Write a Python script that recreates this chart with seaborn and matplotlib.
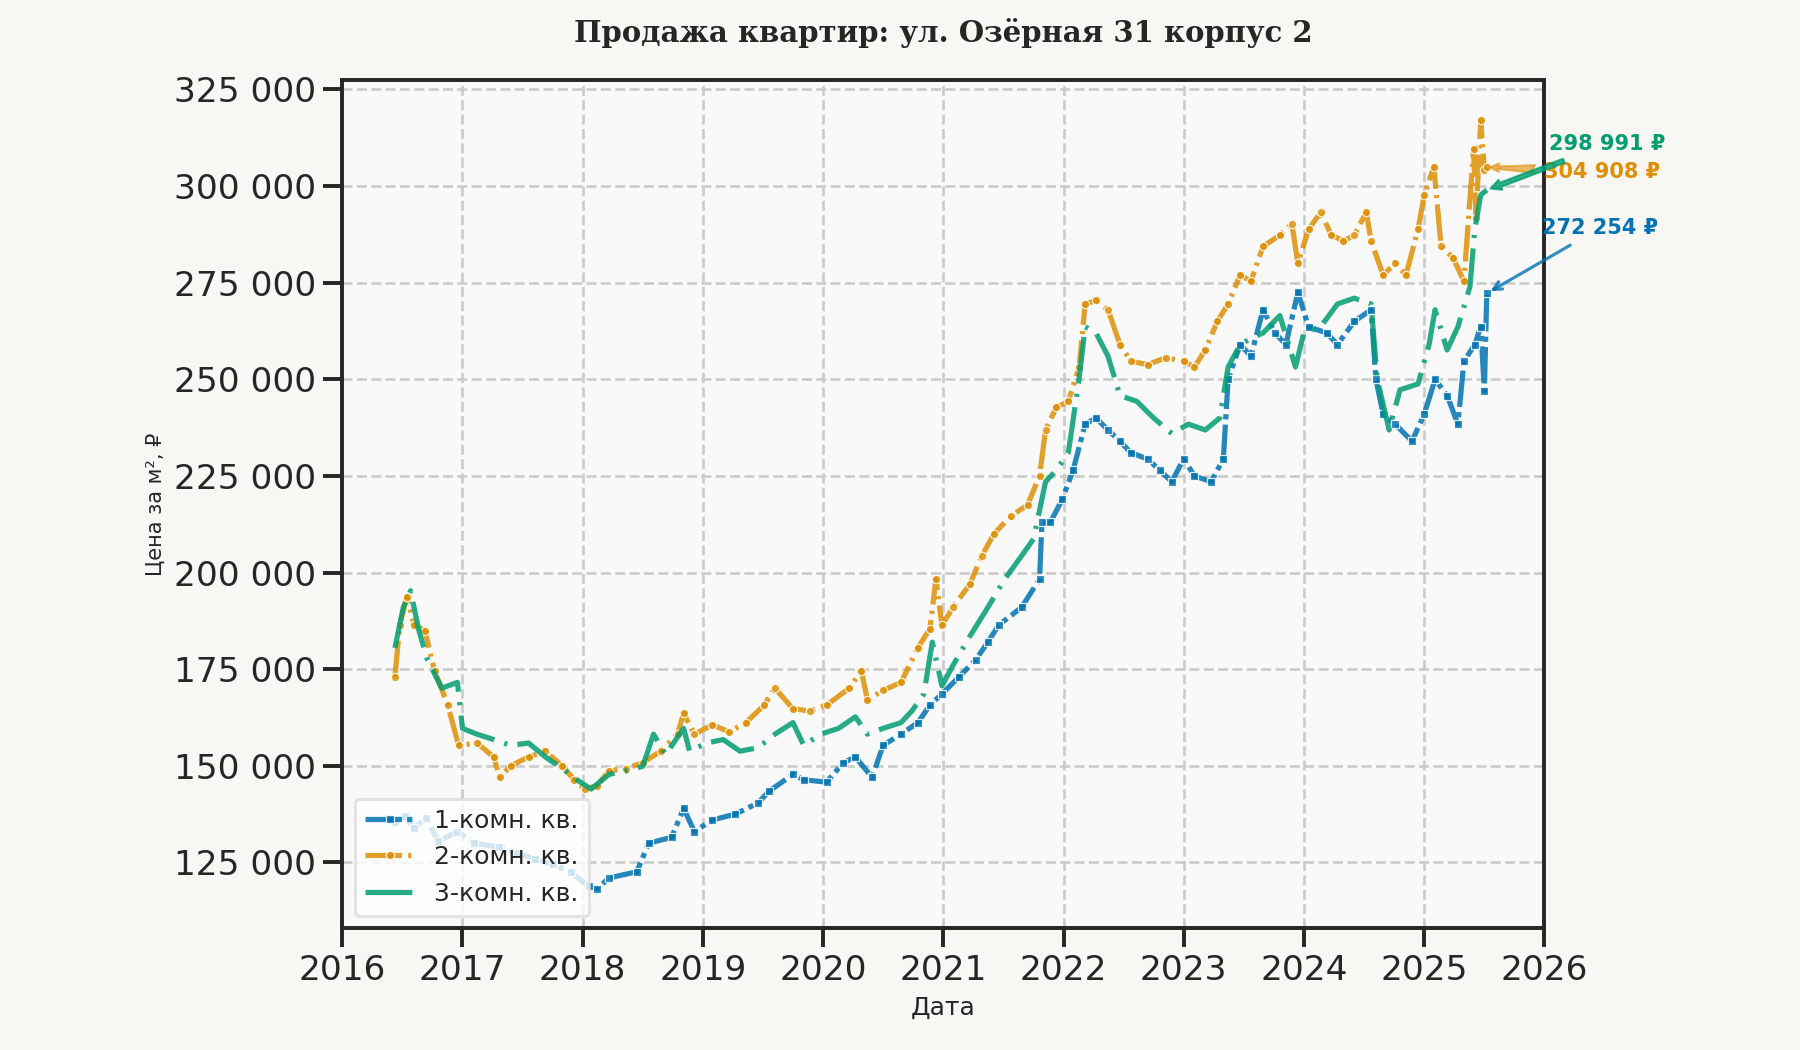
import pandas as pd
import matplotlib
matplotlib.use("Agg")
import matplotlib.pyplot as plt
import matplotlib.dates as mdates
from matplotlib.ticker import FuncFormatter
import seaborn as sns

TITLE = "Продажа квартир: ул. Озёрная 31 корпус 2"
LABELS = ["1-комн. кв.", "2-комн. кв.", "3-комн. кв."]

# годы (дробные) и цены за м2, тыс. руб.
t1 = [2016.44, 2016.52, 2016.6, 2016.7, 2016.8, 2016.96,
      2017.1, 2017.3, 2017.45, 2017.6, 2017.75, 2017.9,
      2018.05, 2018.12, 2018.22, 2018.45, 2018.55, 2018.74, 2018.84, 2018.93,
      2019.08, 2019.27, 2019.46, 2019.55, 2019.75, 2019.84,
      2020.03, 2020.17, 2020.27, 2020.41, 2020.5, 2020.65, 2020.79, 2020.89, 2020.99,
      2021.13, 2021.27, 2021.37, 2021.46, 2021.65, 2021.8, 2021.82, 2021.89, 2021.99,
      2022.08, 2022.18, 2022.27, 2022.37, 2022.47, 2022.56, 2022.7, 2022.8, 2022.9,
      2023.0, 2023.09, 2023.23, 2023.33, 2023.37, 2023.47, 2023.56, 2023.66, 2023.76, 2023.85, 2023.95,
      2024.04, 2024.19, 2024.28, 2024.42, 2024.56, 2024.6, 2024.66, 2024.76, 2024.9,
      2025.0, 2025.09, 2025.19, 2025.28, 2025.33, 2025.42, 2025.47, 2025.5, 2025.52]
v1 = [135.5, 137.0, 134.0, 136.5, 130.5, 133.0,
      130.0, 129.0, 127.5, 126.0, 124.5, 122.5,
      118.8, 118.2, 121.0, 122.6, 130.0, 131.5, 139.0, 133.0,
      136.0, 137.5, 140.4, 143.4, 147.8, 146.4,
      145.8, 150.8, 152.3, 147.0, 155.3, 158.2, 161.2, 165.7, 168.6,
      173.0, 177.5, 182.0, 186.4, 191.0, 198.3, 213.0, 213.0, 219.0,
      226.5, 238.4, 240.0, 236.9, 234.0, 231.0, 229.4, 226.5, 223.5,
      229.4, 225.0, 223.5, 229.4, 250.0, 259.0, 256.0, 268.0, 262.0, 259.0, 272.5,
      263.6, 262.0, 259.0, 265.0, 268.0, 250.0, 241.0, 238.4, 234.0,
      241.0, 250.0, 245.8, 238.4, 254.7, 259.0, 263.6, 247.0, 272.254]

t2 = [2016.44, 2016.48, 2016.54, 2016.6, 2016.69, 2016.77, 2016.88, 2016.97,
      2017.12, 2017.26, 2017.31, 2017.4, 2017.55, 2017.69, 2017.83, 2017.93,
      2018.02, 2018.12, 2018.22, 2018.36, 2018.5, 2018.65, 2018.79, 2018.84, 2018.93,
      2019.08, 2019.22, 2019.36, 2019.51, 2019.6, 2019.75, 2019.89,
      2020.03, 2020.22, 2020.32, 2020.37, 2020.5, 2020.65, 2020.79, 2020.89, 2020.94, 2020.99,
      2021.08, 2021.22, 2021.32, 2021.42, 2021.56, 2021.7, 2021.8, 2021.85, 2021.94,
      2022.04, 2022.13, 2022.18, 2022.27, 2022.37, 2022.47, 2022.56, 2022.7, 2022.85,
      2023.0, 2023.09, 2023.18, 2023.28, 2023.37, 2023.47, 2023.56, 2023.66, 2023.8, 2023.9, 2023.95,
      2024.04, 2024.14, 2024.23, 2024.33, 2024.42, 2024.52, 2024.56, 2024.66, 2024.76, 2024.85, 2024.95,
      2025.0, 2025.08, 2025.14, 2025.24, 2025.33, 2025.41, 2025.43, 2025.47, 2025.5, 2025.52]
v2 = [173.0, 186.4, 193.8, 186.4, 185.0, 174.6, 165.7, 155.3,
      155.9, 152.3, 147.0, 150.0, 152.3, 153.8, 150.0, 146.4,
      144.0, 144.9, 148.7, 149.3, 150.8, 153.8, 158.2, 163.6, 158.2,
      160.6, 158.8, 161.2, 165.7, 170.1, 164.8, 164.2,
      165.7, 170.1, 174.6, 167.1, 169.5, 171.6, 180.5, 185.5, 198.3, 186.4,
      191.0, 197.0, 204.3, 210.0, 214.6, 217.5, 225.0, 236.9, 242.8,
      244.3, 253.2, 269.5, 270.4, 268.0, 259.0, 254.7, 253.8, 255.6,
      254.7, 253.2, 257.6, 265.0, 269.5, 277.0, 275.4, 284.4, 287.3, 290.3, 280.0,
      288.8, 293.2, 287.3, 285.8, 287.3, 293.2, 285.8, 277.0, 280.0, 277.0, 288.8,
      297.7, 305.0, 284.4, 281.4, 275.4, 309.6, 291.8, 317.0, 304.2, 304.908]

t3 = [2016.44, 2016.51, 2016.57, 2016.64, 2016.71, 2016.83, 2016.96,
      2017.0, 2017.12, 2017.26, 2017.4, 2017.55, 2017.69, 2017.83, 2017.98,
      2018.07, 2018.22, 2018.36, 2018.5, 2018.59, 2018.69, 2018.84, 2018.89,
      2019.03, 2019.17, 2019.31, 2019.46, 2019.6, 2019.75, 2019.84, 2019.98,
      2020.13, 2020.27, 2020.37, 2020.5, 2020.65, 2020.74, 2020.84, 2020.91, 2020.99,
      2021.08, 2021.22, 2021.37, 2021.51, 2021.65, 2021.75, 2021.85, 2021.94,
      2022.04, 2022.13, 2022.18, 2022.27, 2022.37, 2022.47, 2022.61, 2022.75, 2022.9,
      2023.04, 2023.18, 2023.3, 2023.37, 2023.47, 2023.56, 2023.66, 2023.8, 2023.93,
      2024.0, 2024.14, 2024.28, 2024.42, 2024.56, 2024.61, 2024.71, 2024.8, 2024.95,
      2025.04, 2025.09, 2025.19, 2025.28, 2025.38, 2025.42, 2025.47, 2025.52]
v3 = [180.5, 191.0, 195.3, 185.0, 177.5, 170.1, 171.6,
      159.7, 158.2, 156.8, 155.3, 155.9, 152.3, 149.3, 145.8,
      144.0, 147.8, 148.7, 149.9, 158.2, 152.9, 159.7, 153.8,
      155.9, 156.8, 153.8, 154.7, 158.2, 161.2, 155.3, 158.2,
      159.7, 162.7, 158.2, 159.7, 161.2, 164.2, 168.6, 182.0, 170.7,
      176.0, 183.5, 191.0, 198.3, 204.3, 208.7, 223.5, 226.5,
      231.0, 250.2, 263.6, 262.0, 256.0, 245.8, 244.3, 240.0, 236.0,
      238.4, 236.9, 240.0, 253.2, 259.0, 260.6, 262.0, 266.5, 253.2,
      262.0, 263.6, 269.5, 271.0, 269.5, 250.2, 236.9, 247.3, 248.8,
      259.0, 268.0, 257.6, 263.6, 274.0, 288.8, 297.7, 298.991]

# позиции подписей последних значений (год, тыс. руб.)
label_x = [2026.46, 2026.48, 2026.52]
label_y = [289.1, 303.6, 310.8]

colors = sns.color_palette("colorblind", 3)
dashes = [(7, 1.0, 1, 1.0), (7, 1.2, 0.6, 1.2), (9, 2.0, 0.6, 2.0)]
markers = ["s", "o", ""]


def to_date(t):
    year = int(t)
    return pd.Timestamp(year=year, month=1, day=1) + pd.Timedelta(days=(t - year) * 365.25)


def rub(x, pos=None):
    return f"{x:,.0f}".replace(",", " ")


sns.set_theme(context="talk", style="ticks")
plt.rcParams["font.family"] = ["DejaVu Sans"]

fig, ax = plt.subplots(figsize=(12, 7), dpi=150)
fig.patch.set_facecolor("#f8f7f3")
ax.set_facecolor("#f9f9fa")
fig.subplots_adjust(left=0.19, right=0.858, top=0.924, bottom=0.116)

series = [(t1, v1), (t2, v2), (t3, v3)]
for (t, v), lbl, c, d, m in zip(series, LABELS, colors, dashes, markers):
    df = pd.DataFrame({"Дата": [to_date(x) for x in t], "Цена": [y * 1000 for y in v]})
    sns.lineplot(data=df, x="Дата", y="Цена", ax=ax, color=c, label=lbl,
                 linewidth=2.5, linestyle=(0, d), marker=m, markersize=4,
                 markeredgewidth=0.6, alpha=0.85)

ax.set_xlim(pd.Timestamp("2016-01-01"), pd.Timestamp("2026-01-01"))
ax.set_ylim(108000, 327500)
ax.xaxis.set_major_locator(mdates.YearLocator())
ax.xaxis.set_major_formatter(mdates.DateFormatter("%Y"))
ax.yaxis.set_major_formatter(FuncFormatter(rub))
ax.grid(True, linestyle="--", color="#cccccc", linewidth=1.3)
ax.set_axisbelow(True)

ax.set_title(TITLE, fontsize=14, fontweight="bold", family="DejaVu Serif", pad=18, color="#262626")
ax.set_xlabel("Дата", fontsize=12, labelpad=4)
ax.set_ylabel("Цена за м², ₽", fontsize=10, labelpad=4)

arrow_styles = [
    dict(arrowstyle="->", color=colors[0], lw=1.5, alpha=0.8),
    dict(arrowstyle="fancy", color=colors[1], alpha=0.6, lw=1),
    dict(arrowstyle="simple", color=colors[2], alpha=0.8, lw=1),
]
for (t, v), c, lx, ly, ap in zip(series, colors, label_x, label_y, arrow_styles):
    ax.annotate(rub(v[-1] * 1000) + " ₽", xy=(to_date(t[-1]), v[-1] * 1000),
                xytext=(to_date(lx), ly * 1000), textcoords="data",
                ha="center", va="center", fontsize=10, fontweight="bold",
                color=c, arrowprops=ap, annotation_clip=False)

leg = ax.legend(loc="lower left", fontsize=12, frameon=True, framealpha=0.8,
                edgecolor="#dddddd", handlelength=2.0)

plt.savefig("out.png", dpi=150, facecolor=fig.get_facecolor())
